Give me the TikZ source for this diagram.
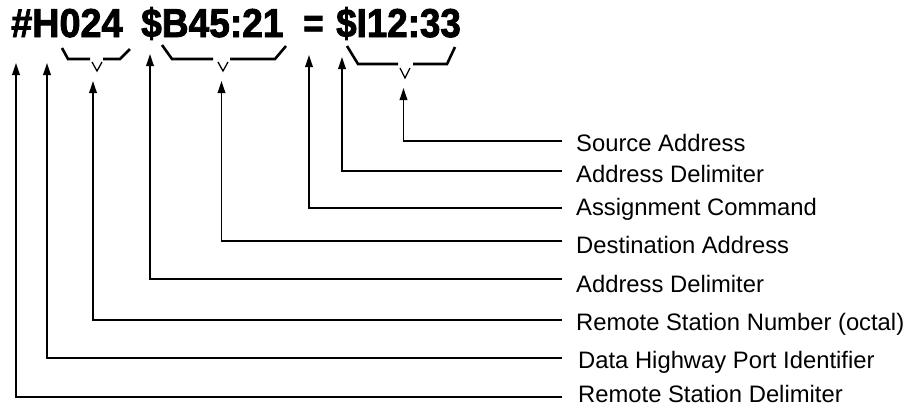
\documentclass[tikz,border=0pt]{standalone}
\usepackage{fontspec}
\setmainfont{Liberation Sans}
\newfontfamily\hdrfont[FakeBold=2.2]{Liberation Sans Bold}
\usetikzlibrary{arrows.meta}
\tikzset{
  lbl/.style={anchor=base west, inner sep=0pt, font=\fontsize{23.8}{27}\selectfont},
  hdr/.style={anchor=base west, inner sep=0pt, font=\fontsize{35}{40}\hdrfont},
  conn/.style={line width=1.8pt, -{Triangle[width=7.5pt,length=12pt]}},
  bracel/.style={line width=2.6pt, line join=miter},
  bracev/.style={line width=1.3pt},
}
\begin{document}
\begin{tikzpicture}[x=1pt,y=-1pt]
\useasboundingbox (0,0) rectangle (914,408);
% header
\node[hdr] (h1) at (11,37) {\scalebox{1.08}[1.15]{\#H024}};
\node[hdr] (h2) at (141,37) {\scalebox{1.06}[1.15]{\$B45:21}};
\node[hdr] (h3) at (303,37) {\scalebox{1.0}[1.15]{=}};
\node[hdr] (h4) at (336,37) {\scalebox{1.05}[1.15]{\$I12:33}};
% braces
\draw[bracel] (62,48) -- (68,59) -- (90,59);
\draw[bracel] (103,59) -- (120,59) -- (130,49);
\draw[bracev] (92,62) -- (97,71) -- (102,62);
\draw[bracel] (162,45) -- (172,59) -- (213,59);
\draw[bracel] (230,59) -- (275,59) -- (286,46);
\draw[bracev] (218,62) -- (223,71) -- (228,62);
\draw[bracel] (347,46) -- (358,64) -- (398,64);
\draw[bracel] (413,64) -- (447,64) -- (455,47);
\draw[bracev] (400,68) -- (405,78) -- (410,68);
% labels
\node[lbl] (l8) at (576,151.5) {Source Address};
\node[lbl] (l7) at (576,182.5) {Address Delimiter};
\node[lbl] (l6) at (576,215) {Assignment Command};
\node[lbl] (l5) at (576,253.5) {Destination Address};
\node[lbl] (l4) at (576,292.5) {Address Delimiter};
\node[lbl] (l3) at (576,330) {Remote Station Number (octal)};
\node[lbl] (l2) at (578,368) {Data Highway Port Identifier};
\node[lbl] (l1) at (578,402) {Remote Station Delimiter};
% connector ends
\coordinate (e1) at (562,397); \coordinate (t1) at (16,63);
\coordinate (e2) at (562,358); \coordinate (t2) at (47,63);
\coordinate (e3) at (562,320); \coordinate (t3) at (93,81);
\coordinate (e4) at (562,279); \coordinate (t4) at (150,54);
\coordinate (e5) at (562,241); \coordinate (t5) at (221.5,81);
\coordinate (e6) at (562,208); \coordinate (t6) at (309,55);
\coordinate (e7) at (562,171); \coordinate (t7) at (342,57);
\coordinate (e8) at (562,141); \coordinate (t8) at (403.5,88);
\foreach \i in {1,...,8} {
  \draw[conn] (e\i) -| (t\i);
}
\end{tikzpicture}
\end{document}
